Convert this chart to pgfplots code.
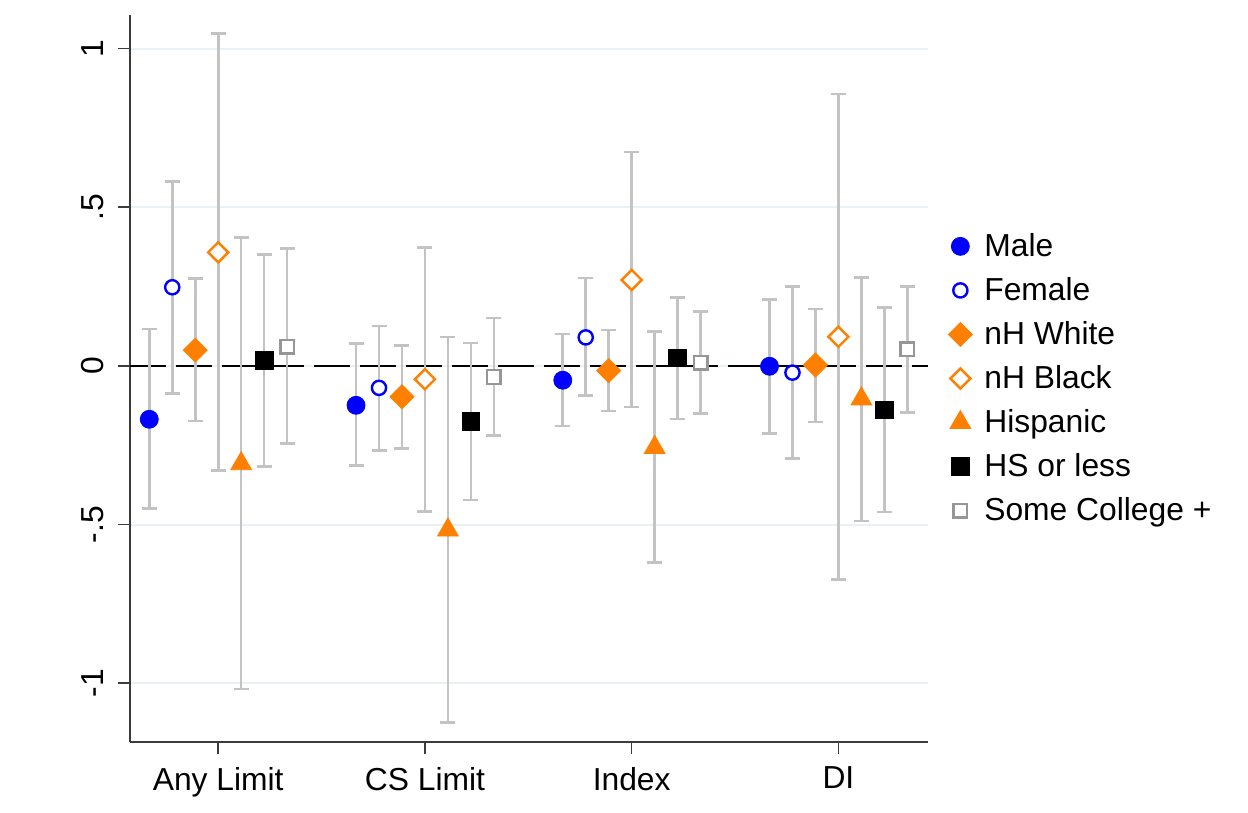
\documentclass[border=0pt]{standalone}
\usepackage{fontspec}
\setmainfont{Liberation Sans}
\usepackage{pgfplots}
\usepackage{pgfplotstable}
\pgfplotsset{compat=1.18}
\definecolor{sblue}{RGB}{0,0,255}
\definecolor{sorange}{RGB}{255,127,0}
\definecolor{errgray}{RGB}{195,195,195}
\definecolor{gridc}{RGB}{232,241,243}
\definecolor{scgray}{RGB}{150,150,150}
\definecolor{axgray}{RGB}{60,60,60}

\pgfplotstableread{
x y lo hi
-3 -0.168 -0.450 0.117
6 -0.124 -0.313 0.070
15 -0.045 -0.189 0.101
24 -0.001 -0.213 0.210
}\male
\pgfplotstableread{
x y lo hi
-2 0.248 -0.086 0.581
7 -0.069 -0.267 0.126
16 0.090 -0.094 0.277
25 -0.021 -0.291 0.251
}\female
\pgfplotstableread{
x y lo hi
-1 0.050 -0.174 0.275
8 -0.097 -0.260 0.065
17 -0.015 -0.142 0.113
26 0.003 -0.176 0.180
}\white
\pgfplotstableread{
x y lo hi
0 0.358 -0.330 1.048
9 -0.042 -0.458 0.374
18 0.271 -0.129 0.674
27 0.092 -0.672 0.857
}\blackk
\pgfplotstableread{
x y lo hi
1 -0.308 -1.018 0.405
10 -0.517 -1.124 0.091
19 -0.257 -0.620 0.109
28 -0.104 -0.489 0.278
}\hisp
\pgfplotstableread{
x y lo hi
2 0.017 -0.317 0.352
11 -0.175 -0.422 0.072
20 0.025 -0.167 0.215
29 -0.139 -0.460 0.185
}\hs
\pgfplotstableread{
x y lo hi
3 0.061 -0.245 0.370
12 -0.035 -0.220 0.151
21 0.010 -0.150 0.171
30 0.052 -0.147 0.251
}\sc

\pgfplotsset{
  errplot/.style={forget plot, only marks, mark=none,
    error bars/.cd, y dir=both, y explicit, error mark=|,
    error bar style={errgray, line width=1.3pt},
    error mark options={errgray, line width=1.3pt, mark size=3.75pt}},
}

\begin{document}
\begin{tikzpicture}
\useasboundingbox (-65pt,-35.5pt) rectangle (559pt,371pt);
\begin{axis}[
  at={(0,0)}, anchor=south west,
  scale only axis, width=399pt, height=363.5pt,
  xmin=-3.84, xmax=30.9, ymin=-1.185, ymax=1.106,
  axis x line*=bottom, axis y line*=left,
  axis line style={axgray, line width=0.8pt},
  xtick={0,9,18,27}, xticklabels={Any Limit,CS Limit,Index,DI},
  ytick={-1,-0.5,0,0.5,1}, yticklabels={-1,-.5,0,.5,1},
  tick align=outside, major tick length=6pt,
  tick style={axgray, line width=0.8pt},
  ymajorgrids, grid style={gridc, line width=0.9pt},
  tick label style={font=\fontsize{15.9}{19}\selectfont},
  yticklabel style={rotate=90, anchor=south, inner ysep=7pt},
  xticklabel style={yshift=-3pt},
  legend style={draw=none, fill=none, at={(1.0175,0.5)}, anchor=west,
    font=\fontsize{15.9}{19}\selectfont, row sep=5pt, column sep=4pt},
  legend cell align=left,
]
\addplot[forget plot, black, line width=1.3pt, dash pattern=on 18pt off 5pt] coordinates {(-3.84,0) (30.9,0)};
\addplot[errplot] table[x=x, y=y, y error plus expr=\thisrow{hi}-\thisrow{y}, y error minus expr=\thisrow{y}-\thisrow{lo}]{\male};
\addplot[errplot] table[x=x, y=y, y error plus expr=\thisrow{hi}-\thisrow{y}, y error minus expr=\thisrow{y}-\thisrow{lo}]{\female};
\addplot[errplot] table[x=x, y=y, y error plus expr=\thisrow{hi}-\thisrow{y}, y error minus expr=\thisrow{y}-\thisrow{lo}]{\white};
\addplot[errplot] table[x=x, y=y, y error plus expr=\thisrow{hi}-\thisrow{y}, y error minus expr=\thisrow{y}-\thisrow{lo}]{\blackk};
\addplot[errplot] table[x=x, y=y, y error plus expr=\thisrow{hi}-\thisrow{y}, y error minus expr=\thisrow{y}-\thisrow{lo}]{\hisp};
\addplot[errplot] table[x=x, y=y, y error plus expr=\thisrow{hi}-\thisrow{y}, y error minus expr=\thisrow{y}-\thisrow{lo}]{\hs};
\addplot[errplot] table[x=x, y=y, y error plus expr=\thisrow{hi}-\thisrow{y}, y error minus expr=\thisrow{y}-\thisrow{lo}]{\sc};

\addplot[only marks, mark=*, mark size=4.5pt, draw=sblue, fill=sblue] table[x=x,y=y]{\male};
\addlegendentry{Male}
\addplot[only marks, mark=*, mark size=3.55pt, draw=sblue, fill=white, line width=1.2pt] table[x=x,y=y]{\female};
\addlegendentry{Female}
\addplot[only marks, mark=square*, mark size=4.24pt, mark options={rotate=45}, draw=sorange, fill=sorange] table[x=x,y=y]{\white};
\addlegendentry{nH White}
\addplot[only marks, mark=square*, mark size=3.55pt, mark options={rotate=45}, draw=sorange, fill=white, line width=1.2pt] table[x=x,y=y]{\blackk};
\addlegendentry{nH Black}
\addplot[only marks, mark=triangle*, mark size=6pt, draw=sorange, fill=sorange] table[x=x,y=y]{\hisp};
\addlegendentry{Hispanic}
\addplot[only marks, mark=square*, mark size=4.4pt, draw=black, fill=black] table[x=x,y=y]{\hs};
\addlegendentry{HS or less}
\addplot[only marks, mark=square*, mark size=3.4pt, draw=scgray, fill=white, line width=1.2pt] table[x=x,y=y]{\sc};
\addlegendentry{Some College +}
\end{axis}
\end{tikzpicture}
\end{document}
